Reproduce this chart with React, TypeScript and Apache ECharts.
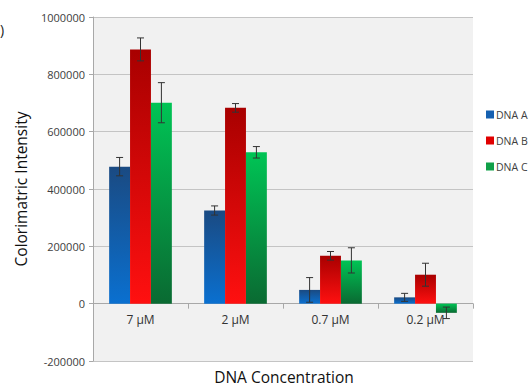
import React, { useEffect, useRef } from "react";
import * as echarts from "echarts";

const categories = ["7 µM", "2 µM", "0.7 µM", "0.2 µM"];
const seriesNames = ["DNA A", "DNA B", "DNA C"];
const dnaA = [478000, 325000, 48000, 22000];
const dnaB = [887000, 683000, 167000, 101000];
const dnaC = [701000, 528000, 151000, -32000];
const errA = [32000, 16000, 43000, 14000];
const errB = [40000, 15000, 15000, 40000];
const errC = [70000, 20000, 44000, 20000];

const topColors = ["#1a4a82", "#a80000", "#00c455"];
const bottomColors = ["#0a70d0", "#ff1010", "#0a6a32"];
const legendColors = ["#1560b0", "#e00000", "#10a048"];

const FONT = "Open Sans";

export default function App() {
  const ref = useRef<HTMLDivElement>(null);
  useEffect(() => {
    if (!ref.current) return;
    const chart = echarts.init(ref.current, null, { renderer: "svg" });
    const values = [dnaA, dnaB, dnaC];
    const errs = [errA, errB, errC];
    const barSeries = values.map((v, i) => ({
      name: seriesNames[i],
      type: "bar",
      data: v,
      barGap: "0%",
      barCategoryGap: "34%",
      itemStyle: {
        color: new echarts.graphic.LinearGradient(0, 0, 0, 1, [
          { offset: 0, color: topColors[i] },
          { offset: 1, color: bottomColors[i] },
        ]),
      },
    }));
    const errSeries = values.map((v, i) => ({
      type: "custom",
      name: "err" + i,
      z: 5,
      data: v.map((val, k) => [k, val - errs[i][k], val + errs[i][k]]),
      encode: { x: 0, y: [1, 2] },
      renderItem: (params: any, api: any) => {
        const k = api.value(0);
        const lo = api.coord([k, api.value(1)]);
        const hi = api.coord([k, api.value(2)]);
        const catW = api.size([1, 0])[0];
        const bw = (catW * 0.66) / 3;
        const x = lo[0] + (i - 1) * bw;
        const cap = 3.5;
        const style = { stroke: "#333333", lineWidth: 1 };
        return {
          type: "group",
          children: [
            { type: "line", shape: { x1: x, y1: lo[1], x2: x, y2: hi[1] }, style },
            { type: "line", shape: { x1: x - cap, y1: lo[1], x2: x + cap, y2: lo[1] }, style },
            { type: "line", shape: { x1: x - cap, y1: hi[1], x2: x + cap, y2: hi[1] }, style },
          ],
        };
      },
    }));
    chart.setOption({
      animation: false,
      textStyle: { fontFamily: FONT },
      grid: {
        left: 93,
        top: 17,
        right: 59,
        bottom: 26,
        outerBoundsMode: "none",
        containLabel: false,
        show: true,
        backgroundColor: "#f1f1f1",
        borderWidth: 0,
      },
      legend: {
        orient: "vertical",
        left: 481,
        top: 104,
        itemWidth: 8,
        itemHeight: 8,
        itemGap: 15,
        icon: "rect",
        textStyle: { fontFamily: FONT, fontSize: 10.5, color: "#404040", padding: [0, 0, 0, -3] },
        data: seriesNames.map((n, i) => ({ name: n, itemStyle: { color: legendColors[i] } })),
      },
      graphic: [
        {
          type: "text",
          left: 0,
          top: 22,
          style: { text: ")", fontSize: 14, fill: "#222", fontFamily: FONT },
        },
        {
          type: "text",
          x: 284,
          y: 377,
          style: {
            text: "DNA Concentration",
            fontSize: 15.5,
            fill: "#111",
            fontFamily: FONT,
            align: "center",
            verticalAlign: "middle",
          },
        },
      ],
      xAxis: {
        type: "category",
        data: categories,
        axisLine: { onZero: true, lineStyle: { color: "#a8a8a8" } },
        axisTick: { show: true, length: 5, lineStyle: { color: "#a8a8a8" } },
        axisLabel: { fontSize: 12, color: "#333", margin: -48, fontFamily: FONT },
      },
      yAxis: {
        type: "value",
        min: -200000,
        max: 1000000,
        interval: 200000,
        name: "Colorimatric Intensity",
        nameLocation: "middle",
        nameGap: 64,
        nameTextStyle: { fontSize: 15.5, color: "#111", fontFamily: FONT },
        axisLine: { show: true, lineStyle: { color: "#a8a8a8" } },
        axisTick: { show: true, length: 4, lineStyle: { color: "#a8a8a8" } },
        axisLabel: {
          fontSize: 11,
          color: "#404040",
          margin: 8,
          fontFamily: FONT,
          formatter: (v: number) => String(v),
        },
        splitLine: { lineStyle: { color: "#c4c4c4" } },
      },
      series: [...barSeries, ...errSeries],
    });
    return () => chart.dispose();
  }, []);
  return <div ref={ref} style={{ width: 532, height: 387, position: "absolute", left: 0, top: 0 }} />;
}
